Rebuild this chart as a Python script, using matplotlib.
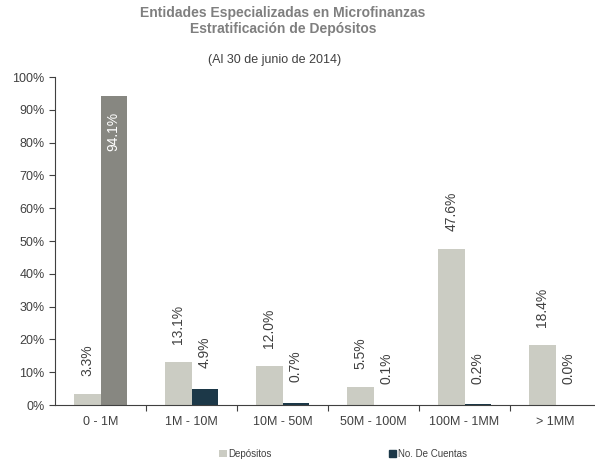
import numpy as np
import matplotlib
matplotlib.use('Agg')
import matplotlib.pyplot as plt
from matplotlib.ticker import PercentFormatter

plt.rcParams['font.family'] = ['Liberation Sans', 'DejaVu Sans']

#-------------------------------------
# Data
#-------------------------------------
categories = ['0 - 1M', '1M - 10M', '10M - 50M', '50M - 100M', '100M - 1MM', '> 1MM']
depositos = [3.3, 13.1, 12.0, 5.5, 47.6, 18.4]
cuentas = [94.1, 4.9, 0.7, 0.1, 0.2, 0.0]

col_dep = '#cbccc3'
col_cta = '#1c3848'
col_first = '#878781'
txt = '#404040'

fig = plt.figure(figsize=(5.95, 4.61), dpi=100)
ax = fig.add_axes([55/595, 56/461, 546/595, 328/461])

x = np.arange(len(categories))
w = 0.286
b1 = ax.bar(x - w/2, depositos, w, color=col_dep, label='Depósitos')
cta_colors = [col_first] + [col_cta]*(len(cuentas) - 1)
b2 = ax.bar(x + w/2, cuentas, w, color=cta_colors, label='No. De Cuentas')

#------------------------
# Value labels
#------------------------
for xi, v in zip(x - w/2, depositos):
    ax.annotate('%.1f%%' % v, (xi, v), xytext=(0, 13), textcoords='offset points',
                rotation=90, ha='center', va='bottom', fontsize=10, color=txt)
for i, (xi, v) in enumerate(zip(x + w/2, cuentas)):
    if i == 0:
        ax.annotate('%.1f%%' % v, (xi, v), xytext=(0, -11), textcoords='offset points',
                    rotation=90, ha='center', va='top', fontsize=10, color='white')
    else:
        ax.annotate('%.1f%%' % v, (xi, v), xytext=(0, 15), textcoords='offset points',
                    rotation=90, ha='center', va='bottom', fontsize=10, color=txt)

#------------------------
# Axes styling
#------------------------
ax.set_xlim(-0.5, len(categories) - 0.5)
ax.set_ylim(0, 100)
ax.set_yticks(np.arange(0, 101, 10))
ax.yaxis.set_major_formatter(PercentFormatter(decimals=0))
ax.set_xticks(np.arange(0.5, len(categories) - 0.5, 1.0))
ax.set_xticklabels([])
ax.set_xticks(x, minor=True)
ax.set_xticklabels(categories, minor=True)
ax.tick_params(axis='x', which='minor', length=0, pad=8, labelsize=9, labelcolor=txt)
ax.tick_params(axis='x', which='major', direction='out', length=4, color='#404040')
ax.tick_params(axis='y', length=4, direction='out', labelsize=9, labelcolor=txt, color='#404040')
for s in ['top', 'right']:
    ax.spines[s].set_visible(False)
for s in ['left', 'bottom']:
    ax.spines[s].set_color('#404040')

#------------------------
# Titles and legend
#------------------------
fig.text(283/595, 1 - 13/461, 'Entidades Especializadas en Microfinanzas', ha='center', va='center',
         fontsize=10, fontweight='bold', color='#7f7f7f')
fig.text(283/595, 1 - 29/461, 'Estratificación de Depósitos', ha='center', va='center',
         fontsize=10, fontweight='bold', color='#7f7f7f')
fig.text(275/595, 1 - 60/461, '(Al 30 de junio de 2014)', ha='center', va='center',
         fontsize=9, color=txt)

leg = fig.legend(handles=[b1, b2], loc='center', bbox_to_anchor=(343/595, 1 - 454/461), ncol=2,
                 frameon=False, fontsize=7, handlelength=0.8, handleheight=0.8,
                 handletextpad=0.2, columnspacing=12)
for t in leg.get_texts():
    t.set_color(txt)
leg.legend_handles[1].set_color(col_cta)

fig.savefig('out.png', dpi=100)
